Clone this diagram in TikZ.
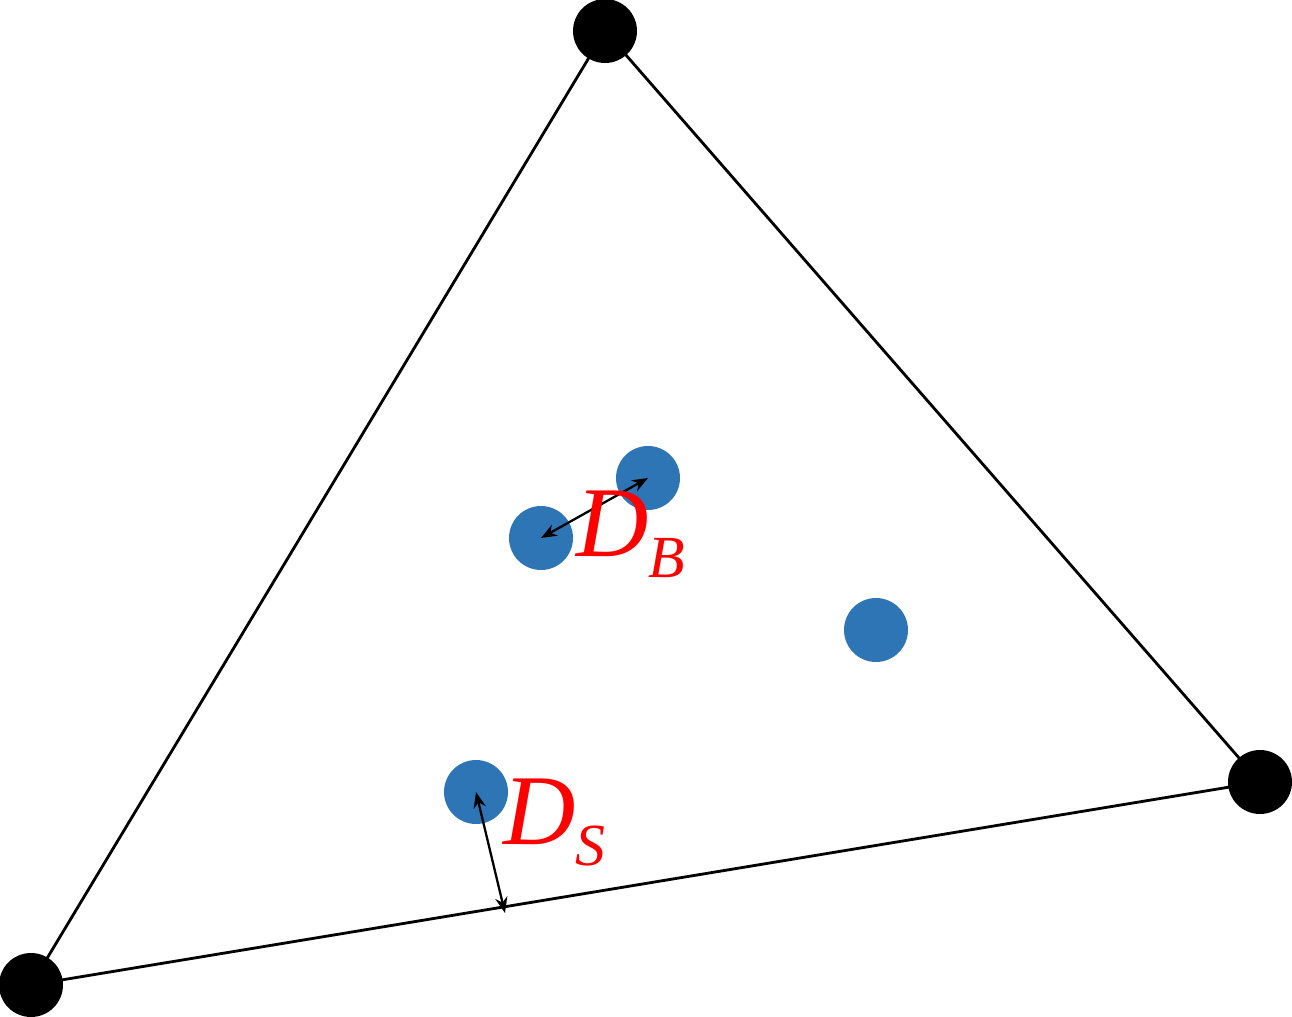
\documentclass[tikz,border=0pt]{standalone}
\usepackage{fontspec}
\setmainfont{Liberation Serif}
\usetikzlibrary{arrows.meta}
\definecolor{ptblue}{RGB}{46,117,182}
\newcommand{\bigD}[1]{{\fontsize{57}{60}\selectfont\itshape D}\raisebox{-0.42cm}{\fontsize{34}{36}\selectfont\itshape #1}}
\begin{document}
\begin{tikzpicture}[x=0.02cm,y=-0.02cm,
  vert/.style={circle,fill=black,minimum size=1.28cm,inner sep=0pt},
  pt/.style={circle,fill=ptblue,minimum size=1.28cm,inner sep=0pt},
  edge/.style={line width=1.6pt},
  dist/.style={line width=1.3pt,{Stealth[length=9pt,width=7pt]}-{Stealth[length=9pt,width=7pt]}},
  lab/.style={text=red,inner sep=0pt,anchor=south west}]
\useasboundingbox (0,0) rectangle (1292,1017);
\node[vert] (A) at (605,31) {};
\node[vert] (B) at (1260,782) {};
\node[vert] (C) at (31,985) {};
\draw[edge] (A.center) -- (B.center) -- (C.center) -- cycle;
\node[pt] (p1) at (648,478) {};
\node[pt] (p2) at (541,538) {};
\node[pt] (p3) at (876,630) {};
\node[pt] (p4) at (476,792) {};
\coordinate (f) at (505,913);
\draw[dist] (p2.center) -- (p1.center);
\draw[dist] (p4.center) -- (f);
\node[lab] (DB) at (576,578) {\bigD{B}};
\node[lab] (DS) at (503,866) {\bigD{S}};
\end{tikzpicture}
\end{document}
